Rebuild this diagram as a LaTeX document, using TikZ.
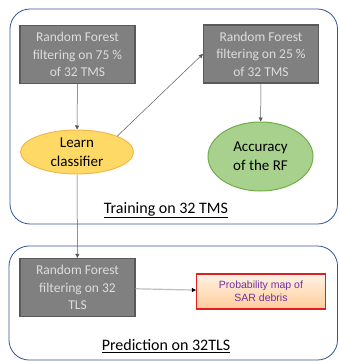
\documentclass[tikz,border=0pt]{standalone}
\usepackage{fontspec}
\setmainfont{Carlito}
\newfontfamily\arialfont{Liberation Sans}
\usetikzlibrary{arrows.meta,shapes.geometric}
\definecolor{frameblue}{HTML}{2F5597}
\definecolor{rfgray}{HTML}{808080}
\definecolor{rfedge}{HTML}{595959}
\definecolor{rftext}{HTML}{DDDDDD}
\definecolor{learnfill}{HTML}{FFD966}
\definecolor{learnedge}{HTML}{F2B84B}
\definecolor{accfill}{HTML}{A9D18E}
\definecolor{accedge}{HTML}{70AD47}
\definecolor{mapedge}{HTML}{E02020}
\definecolor{maptext}{HTML}{7030A0}

\begin{document}
\begin{tikzpicture}[x=1pt,y=-1pt]
    \tikzset{frame/.style = {draw=frameblue, line width=0.8pt, rounded corners=20pt}}
    \tikzset{rfbox/.style = {draw=rfedge, line width=1.2pt, fill=rfgray, text=rftext,
        minimum width=115pt, minimum height=58pt, align=center, inner sep=1pt,
        font=\fontsize{13.5}{17.5}\selectfont}}
    \tikzset{oval/.style = {ellipse, line width=1pt, align=center, inner sep=0pt,
        font=\fontsize{15}{19}\selectfont}}
    \tikzset{title/.style = {font=\fontsize{16}{19}\selectfont}}
    \tikzset{edge/.style = {draw=rfedge, line width=0.5pt, -{Triangle[length=4pt,width=4pt]}}}

    \useasboundingbox (0,0) rectangle (338,361);

    % frames
    \draw[frame] (10,9) rectangle (337.5,224);
    \draw[frame] (9,246) rectangle (337.5,360);

    % vertices
    \node[rfbox] (rf75) at (77.5,54.5) {Random Forest\\filtering on 75 \%\\of 32 TMS};
    \node[rfbox] (rf25) at (261,54) {Random Forest\\filtering on 25 \%\\of 32 TMS};
    \node[oval, draw=learnedge, fill=learnfill, minimum width=113pt, minimum height=44pt]
        (learn) at (77,152) {Learn\\classifier};
    \node[oval, draw=accedge, fill=accfill, minimum width=105pt, minimum height=69pt]
        (acc) at (260.5,156.5) {Accuracy\\of the RF};
    \node[rfbox] (rf32) at (77.5,287.5) {Random Forest\\filtering on 32\\TLS};
    \node[draw=mapedge, line width=1.2pt, top color=orange!10, bottom color=orange!40,
        minimum width=129pt, minimum height=35pt, align=center, inner sep=1pt,
        text=maptext, font=\arialfont\fontsize{10.5}{13}\selectfont]
        (map) at (261,291.5) {Probability map of\\SAR debris};
    \node[title] (train) at (166,210) {\underline{Training on 32 TMS}};
    \node[title] (pred) at (166,346) {\underline{Prediction on 32TLS}};

    % edges
    \draw[edge] (rf75) -- (learn);
    \draw[edge] (rf25) -- (acc);
    \draw[edge] (learn.north east) -- (rf25.west);
    \draw[edge] (learn) -- (rf32);
    \draw[edge, draw=black!25, line width=1.2pt,
        -{Triangle[length=4pt,width=4pt,color=black,line width=0.5pt]}] (rf32) -- (map);
\end{tikzpicture}
\end{document}
